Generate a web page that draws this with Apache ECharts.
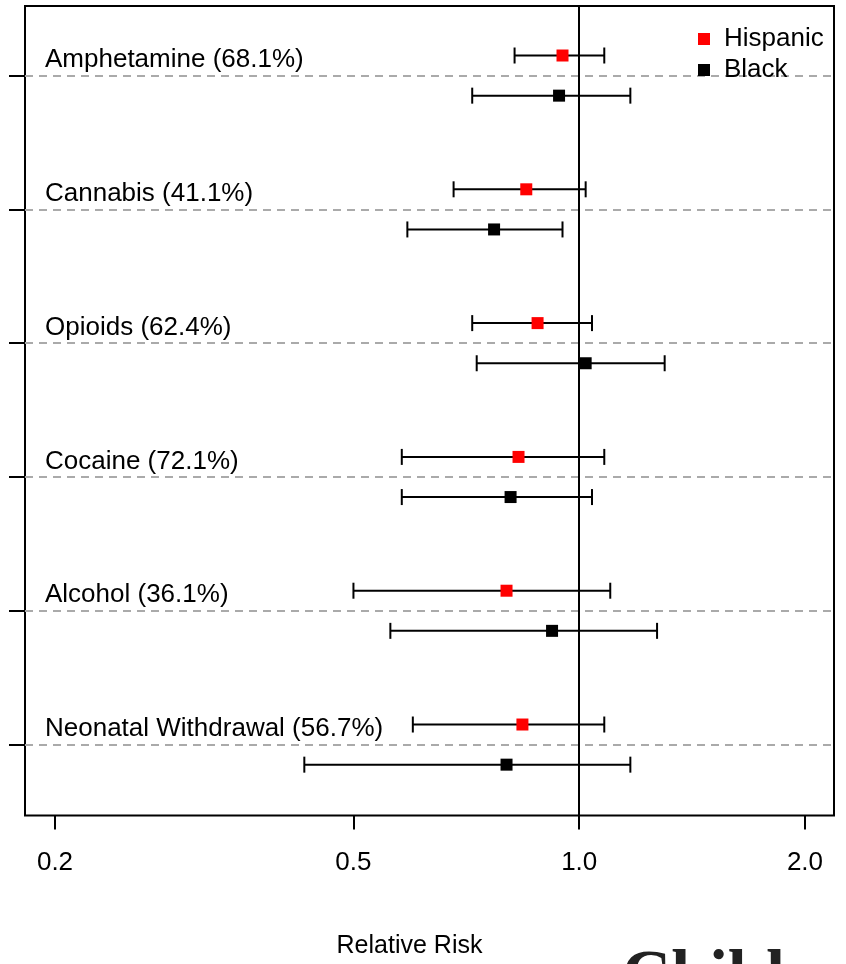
<!DOCTYPE html>
<html><head><meta charset="utf-8">
<script src="https://cdn.jsdelivr.net/npm/echarts@6/dist/echarts.min.js"></script>
<style>html,body{margin:0;padding:0;background:#fff}#c{width:846px;height:964px}</style>
</head><body><div id="c"></div>
<script>
const categories = ['Amphetamine (68.1%)','Cannabis (41.1%)','Opioids (62.4%)','Cocaine (72.1%)','Alcohol (36.1%)','Neonatal Withdrawal (56.7%)'];
const hispanicRR   = [0.95, 0.85, 0.88, 0.83, 0.80, 0.84];
const hispanicLow  = [0.82, 0.68, 0.72, 0.58, 0.50, 0.60];
const hispanicHigh = [1.08, 1.02, 1.04, 1.08, 1.10, 1.08];
const blackRR      = [0.94, 0.77, 1.02, 0.81, 0.92, 0.80];
const blackLow     = [0.72, 0.59, 0.73, 0.58, 0.56, 0.43];
const blackHigh    = [1.17, 0.95, 1.30, 1.04, 1.27, 1.17];
const xTickValues  = [0.2, 0.5, 1.0, 2.0];
const xTickLabels  = ['0.2', '0.5', '1.0', '2.0'];
const seriesNames  = ['Hispanic', 'Black'];
const watermark    = 'Child';

const FONT = "'Liberation Sans', Arial, sans-serif";
const L = Math.log10;
const n = categories.length;
const groupY = i => n - i;
const OFF = 0.15;
const xMin = L(0.2) - 0.04, xMax = L(2) + 0.0387;

function ciData(low, high, sign) {
  return low.map((lo, i) => [L(lo), L(high[i]), groupY(i) + sign * OFF]);
}
function ptData(rr, sign) {
  return rr.map((v, i) => [L(v), groupY(i) + sign * OFF]);
}
function renderCI(params, api) {
  const y = api.value(2);
  const p1 = api.coord([api.value(0), y]);
  const p2 = api.coord([api.value(1), y]);
  const st = { stroke: '#000', lineWidth: 2 };
  return { type: 'group', children: [
    { type: 'line', shape: { x1: p1[0], y1: p1[1], x2: p2[0], y2: p2[1] }, style: st },
    { type: 'line', shape: { x1: p1[0], y1: p1[1] - 8, x2: p1[0], y2: p1[1] + 8 }, style: st },
    { type: 'line', shape: { x1: p2[0], y1: p2[1] - 8, x2: p2[0], y2: p2[1] + 8 }, style: st }
  ]};
}

const chart = echarts.init(document.getElementById('c'), null, { renderer: 'canvas' });
chart.setOption({
  animation: false,
  backgroundColor: '#fff',
  grid: { left: 25, top: 6, right: 12, bottom: 148.5, show: true, borderColor: '#000', borderWidth: 2, backgroundColor: 'transparent' },
  legend: {
    data: seriesNames, orient: 'vertical', left: 693, top: 21,
    itemWidth: 12, itemHeight: 12, itemGap: 5, icon: 'rect',
    textStyle: { fontSize: 26, color: '#000', fontFamily: FONT, padding: [0, 0, 0, 9] }
  },
  xAxis: {
    type: 'value', min: xMin, max: xMax,
    name: 'Relative Risk', nameLocation: 'middle', nameGap: 118,
    nameTextStyle: { fontSize: 25, color: '#000', fontFamily: FONT, padding: [0, 40, 0, 0] },
    axisLine: { show: false, onZero: false },
    splitLine: { show: false },
    axisTick: { show: true, length: 14, lineStyle: { color: '#000', width: 2 }, customValues: xTickValues.map(L) },
    axisLabel: {
      customValues: xTickValues.map(L), fontSize: 26, color: '#000', fontFamily: FONT, margin: 34,
      formatter: v => { const i = xTickValues.findIndex(t => Math.abs(L(t) - v) < 1e-6); return i >= 0 ? xTickLabels[i] : ''; }
    }
  },
  yAxis: {
    type: 'value', min: 0.47, max: 6.52,
    axisLine: { show: false, onZero: false },
    axisLabel: { show: false },
    axisTick: { show: true, length: 16, lineStyle: { color: '#000', width: 2 }, customValues: categories.map((c, i) => groupY(i)) },
    splitLine: { show: true, lineStyle: { color: '#aaa', width: 2, type: [8, 6] } }
  },
  graphic: [{
    type: 'text', left: 622, top: 944, silent: true,
    style: { text: watermark, fontSize: 68, fontWeight: 'bold', fontFamily: "'Liberation Serif', 'Times New Roman', serif", fill: '#222' }
  }],
  series: [
    { type: 'custom', name: 'Hispanic CI', renderItem: renderCI, data: ciData(hispanicLow, hispanicHigh, 1), z: 2, silent: true },
    { type: 'custom', name: 'Black CI', renderItem: renderCI, data: ciData(blackLow, blackHigh, -1), z: 2, silent: true },
    { type: 'scatter', name: seriesNames[0], symbol: 'rect', symbolSize: 12, itemStyle: { color: '#ff0000', opacity: 1 }, data: ptData(hispanicRR, 1), z: 4,
      markLine: { silent: true, symbol: 'none', label: { show: false }, lineStyle: { color: '#000', width: 2, type: 'solid' }, data: [{ xAxis: 0 }] } },
    { type: 'scatter', name: seriesNames[1], symbol: 'rect', symbolSize: 12, itemStyle: { color: '#000', opacity: 1 }, data: ptData(blackRR, -1), z: 4 },
    { type: 'custom', name: 'labels', silent: true, z: 3,
      data: categories.map((c, i) => [xMin, groupY(i)]),
      renderItem: (params, api) => {
        const p = api.coord([api.value(0), api.value(1)]);
        return { type: 'text', x: params.coordSys.x + 20, y: p[1] - 15.5,
          style: { text: categories[params.dataIndex], fontSize: 26, fontFamily: FONT, fill: '#000', verticalAlign: 'middle', align: 'left' } };
      }
    }
  ]
});
</script></body></html>
